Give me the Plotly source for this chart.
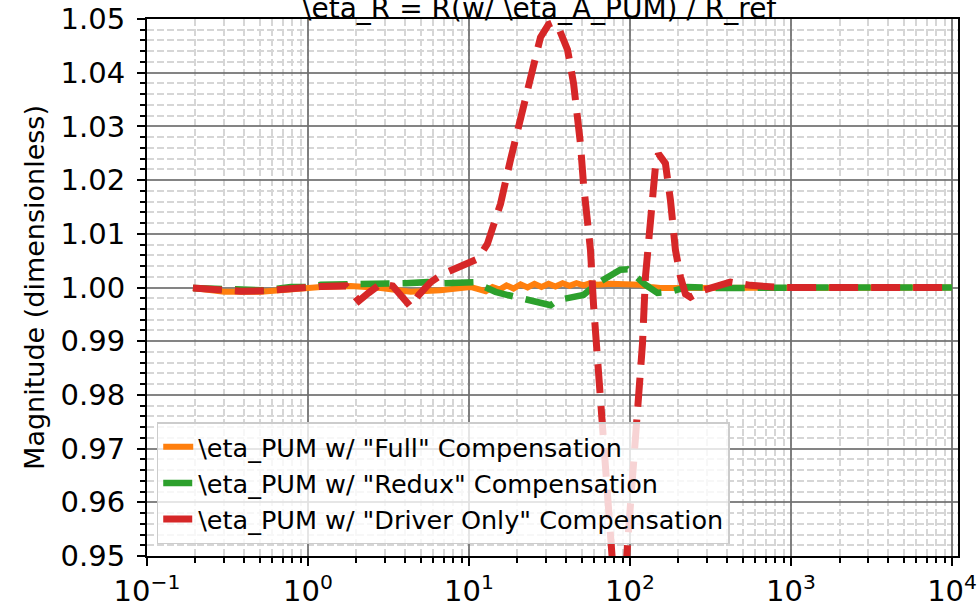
import plotly.graph_objects as go

# ---------------- data ----------------
full_f = [0.193, 0.301, 0.51, 0.782, 1.20, 1.84, 2.83, 4.34, 6.64, 10.2,
          12.7, 14.0, 15.5, 17.1, 18.9, 20.9, 23.1, 25.5, 28.2, 31.2, 34.4,
          38.1, 42.1, 46.5, 51.4, 56.8, 62.8, 75.6, 87.1, 100.5, 116, 134,
          154, 206, 274, 559, 1500, 5000, 10000]
full_mag = [0.9999, 0.9992, 0.9992, 0.9997, 1.0001, 1.0003, 0.9999, 0.9992, 0.9995, 1.0001,
            0.9993, 1.0001, 0.9996, 1.0004, 0.9998, 1.0006, 1.0000, 1.0007, 1.0001, 1.0007, 1.0002,
            1.0008, 1.0003, 1.0008, 1.0004, 1.0008, 1.0005, 1.0007, 1.0007, 1.0007, 1.0005, 1.0001,
            0.9999, 0.9999, 0.9999, 1.0001, 1.0000, 1.0000, 1.0000]

redux_f = [0.193, 0.442, 0.53, 0.782, 1.0, 1.20, 1.76, 2.13, 3.26, 4.04, 5.54, 6.96,
           10.7, 12.7, 14.6, 17.4, 21.5, 25.9, 32.1, 35.9, 42.7, 51.4, 62.8, 75.6,
           87.1, 96.5, 108, 124.7, 148, 178, 227, 364, 1500, 5000, 10000]
redux_mag = [0.9999, 0.9995, 0.9995, 1.0001, 1.0001, 1.0005, 1.0005, 1.0008, 1.0008, 1.0008, 1.0010, 1.0008,
             1.0010, 0.9999, 0.9992, 0.9986, 0.9980, 0.9973, 0.9967, 0.9977, 0.9980, 0.9986, 1.0008, 1.0021,
             1.0033, 1.0034, 1.0020, 1.0005, 0.9990, 0.9992, 1.0001, 0.9999, 1.0000, 1.0000, 1.0000]

driver_f = [0.193, 0.268, 0.383, 0.547, 0.782, 1.20, 1.72, 1.90, 2.07, 2.38, 2.83, 3.36,
            3.87, 4.34, 4.87, 5.78, 6.86, 7.91, 9.53, 11.3, 13.0, 15.7, 18.1, 20.9,
            24.1, 27.8, 31.2, 33.0, 35.5, 40.9, 44.6, 47.2, 49.2, 51.4, 52.9, 56.8,
            59.3, 62.8, 65.5, 70.4, 75.6, 80.0, 86.0, 91.0, 96.5, 103.6, 111.3, 119.5,
            124.7, 133.9, 143.8, 150.2, 165.9, 178.2, 191.4, 205.6, 220.8, 237.2, 285.3,
            419.8, 558.6, 857, 2000, 5000, 10000]
driver_mag = [0.9999, 0.9996, 0.9993, 0.9994, 0.9998, 1.0002, 1.0003, 0.9986, 0.9975, 0.9990, 1.0007, 1.0003,
              0.9979, 0.9964, 0.9986, 1.0010, 1.0025, 1.0033, 1.0042, 1.0053, 1.0081, 1.0156, 1.0238, 1.0318,
              1.0393, 1.0466, 1.0490, 1.0493, 1.0488, 1.0443, 1.0380, 1.0318, 1.0268, 1.0193, 1.0156, 1.0070,
              0.9969, 0.9852, 0.9772, 0.9647, 0.9522, 0.9440, 0.9350, 0.9400, 0.9522, 0.9647, 0.9772, 0.9895,
              1.0020, 1.0132, 1.0225, 1.0249, 1.0231, 1.0163, 1.0070, 1.0020, 0.9988, 0.9982, 0.9995,
              1.0010, 1.0004, 1.0000, 1.0000, 1.0000, 1.0000]

names = ['\\eta_PUM w/ "Full" Compensation',
         '\\eta_PUM w/ "Redux" Compensation',
         '\\eta_PUM w/ "Driver Only" Compensation']

x_tickvals = [0.1, 1, 10, 100, 1000, 10000]
x_ticktext = ["10<sup>\u22121</sup>", "10<sup>0</sup>", "10<sup>1</sup>",
              "10<sup>2</sup>", "10<sup>3</sup>", "10<sup>4</sup>"]

title_text = "\\eta_R = R(w/ \\eta_A_PUM) / R_ref"
ylabel = "Magnitude (dimensionless)"

# ---------------- figure ----------------
FONT = "DejaVu Sans"
fig = go.Figure()
fig.add_trace(go.Scatter(x=full_f, y=full_mag, mode="lines", name=names[0],
                         line=dict(color="#ff7f0e", width=6)))
fig.add_trace(go.Scatter(x=redux_f, y=redux_mag, mode="lines", name=names[1],
                         line=dict(color="#2ca02c", width=6.5, dash="29px,13px")))
fig.add_trace(go.Scatter(x=driver_f, y=driver_mag, mode="lines", name=names[2],
                         line=dict(color="#d62728", width=7, dash="29px,13px")))

fig.update_layout(
    width=979, height=603,
    margin=dict(l=147, r=21, t=19, b=47, autoexpand=False),
    paper_bgcolor="white", plot_bgcolor="white",
    font=dict(family=FONT, color="black", size=28),
    showlegend=True,
    legend=dict(x=0.012, y=0.022, xanchor="left", yanchor="bottom",
                bgcolor="rgba(255,255,255,0.8)", bordercolor="#cccccc", borderwidth=1.5,
                font=dict(size=25.5, family=FONT), tracegroupgap=0,
                itemwidth=30),
    annotations=[dict(text=title_text, xref="paper", yref="paper", x=0.484, y=1.0,
                      xanchor="center", yanchor="bottom", showarrow=False, yshift=-8,
                      font=dict(size=28, family=FONT))],
)

fig.update_xaxes(
    type="log", range=[-1, 4.037], automargin=False,
    tickvals=x_tickvals, ticktext=x_ticktext,
    tickfont=dict(size=29), ticks="outside", ticklen=8, tickwidth=2, tickcolor="black",
    showline=True, linecolor="black", linewidth=2, mirror=True,
    showgrid=True, gridcolor="rgba(110,110,110,0.85)", gridwidth=1.5,
    zeroline=False,
    minor=dict(dtick="D1", ticks="outside", ticklen=5, tickwidth=1.5, tickcolor="black",
               showgrid=True, gridcolor="#d6d6d6", gridwidth=1.5, griddash="7px,3px"),
)
fig.update_yaxes(
    range=[0.95, 1.05], dtick=0.01, tick0=0.95, tickformat=".2f", automargin=False,
    tickfont=dict(size=29), ticks="outside", ticklen=8, tickwidth=2, tickcolor="black",
    ticklabelstandoff=6,
    showline=True, linecolor="black", linewidth=2, mirror=True,
    showgrid=True, gridcolor="rgba(110,110,110,0.85)", gridwidth=1.5,
    zeroline=False,
    title=dict(text=ylabel, font=dict(size=27), standoff=8),
    minor=dict(dtick=0.002, ticks="outside", ticklen=5, tickwidth=1.5, tickcolor="black",
               showgrid=True, gridcolor="#d6d6d6", gridwidth=1.5, griddash="7px,3px"),
)

fig.write_html("out.html", config={"displayModeBar": False},
               post_script="document.body.style.margin='0';document.body.style.overflow='hidden';")
